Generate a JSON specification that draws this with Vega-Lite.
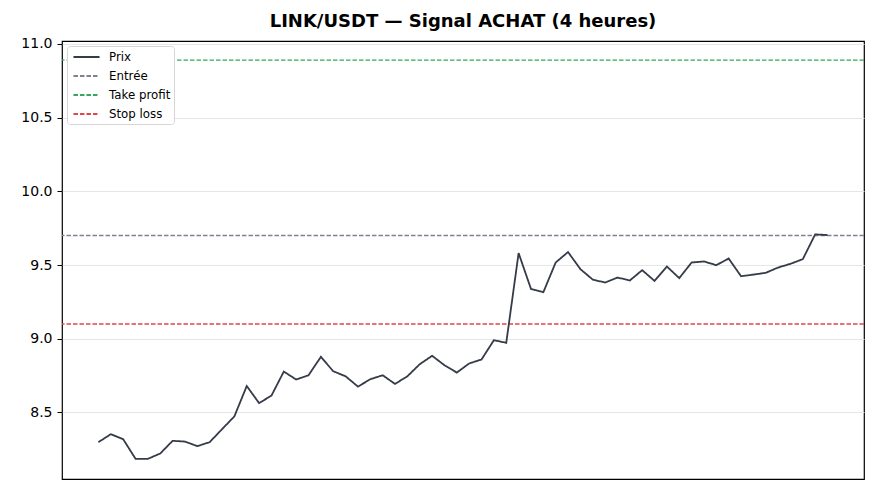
{
  "$schema": "https://vega.github.io/schema/vega-lite/v6.json",
  "width": 802,
  "height": 438,
  "autosize": "none",
  "padding": {"left": 62, "top": 41, "right": 16, "bottom": 16},
  "background": "white",
  "title": {
    "text": "LINK/USDT — Signal ACHAT (4 heures)",
    "font": "DejaVu Sans",
    "fontSize": 18,
    "fontWeight": "bold",
    "color": "#000000",
    "anchor": "middle",
    "offset": 6
  },
  "config": {
    "view": {"stroke": "#000000", "strokeWidth": 1.2},
    "font": "DejaVu Sans"
  },
  "datasets": {
    "prix": [
      {"i": 0, "v": 8.298, "s": "Prix"},
      {"i": 1, "v": 8.352, "s": "Prix"},
      {"i": 2, "v": 8.318, "s": "Prix"},
      {"i": 3, "v": 8.185, "s": "Prix"},
      {"i": 4, "v": 8.185, "s": "Prix"},
      {"i": 5, "v": 8.221, "s": "Prix"},
      {"i": 6, "v": 8.307, "s": "Prix"},
      {"i": 7, "v": 8.302, "s": "Prix"},
      {"i": 8, "v": 8.271, "s": "Prix"},
      {"i": 9, "v": 8.298, "s": "Prix"},
      {"i": 10, "v": 8.386, "s": "Prix"},
      {"i": 11, "v": 8.473, "s": "Prix"},
      {"i": 12, "v": 8.679, "s": "Prix"},
      {"i": 13, "v": 8.563, "s": "Prix"},
      {"i": 14, "v": 8.614, "s": "Prix"},
      {"i": 15, "v": 8.777, "s": "Prix"},
      {"i": 16, "v": 8.723, "s": "Prix"},
      {"i": 17, "v": 8.752, "s": "Prix"},
      {"i": 18, "v": 8.877, "s": "Prix"},
      {"i": 19, "v": 8.779, "s": "Prix"},
      {"i": 20, "v": 8.745, "s": "Prix"},
      {"i": 21, "v": 8.675, "s": "Prix"},
      {"i": 22, "v": 8.725, "s": "Prix"},
      {"i": 23, "v": 8.752, "s": "Prix"},
      {"i": 24, "v": 8.693, "s": "Prix"},
      {"i": 25, "v": 8.745, "s": "Prix"},
      {"i": 26, "v": 8.827, "s": "Prix"},
      {"i": 27, "v": 8.884, "s": "Prix"},
      {"i": 28, "v": 8.820, "s": "Prix"},
      {"i": 29, "v": 8.770, "s": "Prix"},
      {"i": 30, "v": 8.832, "s": "Prix"},
      {"i": 31, "v": 8.859, "s": "Prix"},
      {"i": 32, "v": 8.990, "s": "Prix"},
      {"i": 33, "v": 8.972, "s": "Prix"},
      {"i": 34, "v": 9.581, "s": "Prix"},
      {"i": 35, "v": 9.338, "s": "Prix"},
      {"i": 36, "v": 9.315, "s": "Prix"},
      {"i": 37, "v": 9.517, "s": "Prix"},
      {"i": 38, "v": 9.588, "s": "Prix"},
      {"i": 39, "v": 9.472, "s": "Prix"},
      {"i": 40, "v": 9.401, "s": "Prix"},
      {"i": 41, "v": 9.381, "s": "Prix"},
      {"i": 42, "v": 9.415, "s": "Prix"},
      {"i": 43, "v": 9.395, "s": "Prix"},
      {"i": 44, "v": 9.465, "s": "Prix"},
      {"i": 45, "v": 9.392, "s": "Prix"},
      {"i": 46, "v": 9.490, "s": "Prix"},
      {"i": 47, "v": 9.411, "s": "Prix"},
      {"i": 48, "v": 9.517, "s": "Prix"},
      {"i": 49, "v": 9.524, "s": "Prix"},
      {"i": 50, "v": 9.499, "s": "Prix"},
      {"i": 51, "v": 9.544, "s": "Prix"},
      {"i": 52, "v": 9.424, "s": "Prix"},
      {"i": 53, "v": 9.435, "s": "Prix"},
      {"i": 54, "v": 9.447, "s": "Prix"},
      {"i": 55, "v": 9.483, "s": "Prix"},
      {"i": 56, "v": 9.508, "s": "Prix"},
      {"i": 57, "v": 9.540, "s": "Prix"},
      {"i": 58, "v": 9.708, "s": "Prix"},
      {"i": 59, "v": 9.703, "s": "Prix"}
    ],
    "niveaux": [
      {"v": 9.70, "s": "Entrée"},
      {"v": 10.89, "s": "Take profit"},
      {"v": 9.10, "s": "Stop loss"}
    ]
  },
  "layer": [
    {
      "data": {"name": "niveaux"},
      "mark": {"type": "rule", "strokeWidth": 1.4},
      "encoding": {
        "y": {"field": "v", "type": "quantitative"},
        "color": {"field": "s", "type": "nominal"},
        "strokeDash": {"field": "s", "type": "nominal"}
      }
    },
    {
      "data": {"name": "prix"},
      "mark": {"type": "line", "strokeWidth": 1.8, "strokeJoin": "miter"},
      "encoding": {
        "x": {
          "field": "i",
          "type": "quantitative",
          "scale": {"domain": [-2.95, 61.95], "nice": false, "zero": false},
          "axis": null
        },
        "y": {
          "field": "v",
          "type": "quantitative",
          "scale": {"domain": [8.048, 11.02], "nice": false, "zero": false},
          "axis": {
            "title": null,
            "values": [8.5, 9.0, 9.5, 10.0, 10.5, 11.0],
            "format": ".1f",
            "labelFont": "DejaVu Sans",
            "labelFontSize": 14,
            "labelColor": "#000000",
            "labelPadding": 5,
            "tickColor": "#000000",
            "tickSize": 5,
            "tickWidth": 1,
            "domain": false,
            "grid": true,
            "gridColor": "#e6e6e6",
            "gridWidth": 1
          }
        },
        "color": {
          "field": "s",
          "type": "nominal",
          "scale": {
            "domain": ["Prix", "Entrée", "Take profit", "Stop loss"],
            "range": ["#353b48", "#7f8193", "#34a85a", "#e04848"]
          },
          "legend": {
            "title": null,
            "orient": "top-left",
            "offset": 5,
            "padding": 3,
            "fillColor": "#ffffff",
            "strokeColor": "#d6d6d6",
            "cornerRadius": 3,
            "labelFont": "DejaVu Sans",
            "labelFontSize": 11.8,
            "labelColor": "#000000",
            "symbolType": "M-2,0H2",
            "symbolSize": 170,
            "symbolOffset": 8.5,
            "symbolStrokeWidth": 2,
            "rowPadding": 4,
            "labelOffset": 14.5
          }
        },
        "strokeDash": {
          "field": "s",
          "type": "nominal",
          "scale": {
            "domain": ["Prix", "Entrée", "Take profit", "Stop loss"],
            "range": [[1, 0], [4.5, 2], [4.5, 2], [4.5, 2]]
          },
          "legend": {
            "title": null,
            "orient": "top-left",
            "offset": 5,
            "padding": 3,
            "fillColor": "#ffffff",
            "strokeColor": "#d6d6d6",
            "cornerRadius": 3,
            "labelFont": "DejaVu Sans",
            "labelFontSize": 11.8,
            "labelColor": "#000000",
            "symbolType": "M-2,0H2",
            "symbolSize": 170,
            "symbolOffset": 8.5,
            "symbolStrokeWidth": 2,
            "rowPadding": 4,
            "labelOffset": 14.5
          }
        }
      }
    }
  ]
}
